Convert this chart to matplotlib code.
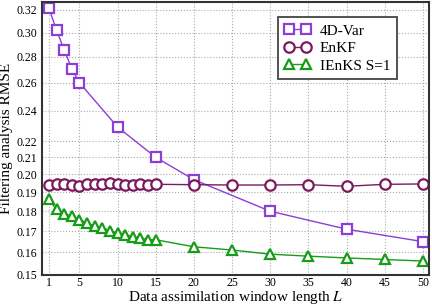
import numpy as np
import matplotlib
matplotlib.use("Agg")
import matplotlib.pyplot as plt
from matplotlib.ticker import FixedLocator, NullLocator, FormatStrFormatter

plt.rcParams['font.family'] = ['Liberation Serif', 'DejaVu Serif']
plt.rcParams['mathtext.fontset'] = 'stix'

# --- data ---
L_var = [1, 2, 3, 4, 5, 10, 15, 20, 30, 40, 50]
rmse_var = [0.322, 0.302, 0.2857, 0.2705, 0.260, 0.229, 0.210, 0.197, 0.180, 0.171, 0.165]

L_enkf = [1, 2, 3, 4, 5, 6, 7, 8, 9, 10, 11, 12, 13, 14, 15, 20, 25, 30, 35, 40, 45, 50]
rmse_enkf = [0.1940, 0.1947, 0.1944, 0.1942, 0.1933, 0.1946, 0.1947, 0.1944, 0.1953, 0.1947,
             0.1942, 0.1942, 0.1946, 0.1942, 0.1944, 0.1942, 0.1940, 0.1940, 0.1942, 0.1933,
             0.1944, 0.1946]

L_ienks = [1, 2, 3, 4, 5, 6, 7, 8, 9, 10, 11, 12, 13, 14, 15, 20, 25, 30, 35, 40, 45, 50]
rmse_ienks = [0.1862, 0.1809, 0.1787, 0.1775, 0.1756, 0.1740, 0.1725, 0.1717, 0.1702, 0.1691,
              0.1684, 0.1673, 0.1668, 0.1659, 0.1659, 0.1626, 0.1611, 0.1592, 0.1583, 0.1575,
              0.1568, 0.1561]

xticks = [1, 5, 10, 15, 20, 25, 30, 35, 40, 45, 50]
yticks = [0.15, 0.16, 0.17, 0.18, 0.19, 0.20, 0.21, 0.22, 0.24, 0.26, 0.28, 0.30, 0.32]

fig = plt.figure(figsize=(4.32, 3.05), dpi=100)
ax = fig.add_axes([42 / 432, 30 / 305, 387 / 432, 273 / 305])

ax.plot(L_var, rmse_var, '-s', color='#8b3fd6', lw=1.0, ms=7.5, mfc='white', mew=1.6,
        label='4D-Var')
ax.plot(L_enkf, rmse_enkf, '-o', color='#7b1a5e', lw=1.0, ms=7.5, mfc='white', mew=1.6,
        label='EnKF')
ax.plot(L_ienks, rmse_ienks, '-^', color='#179c17', lw=1.0, ms=7.5, mfc='white', mew=1.6,
        label='IEnKS S=1')

ax.set_yscale('log')
ax.set_xlim(0.1, 50.8)
ax.set_ylim(0.15, 0.3274)
ax.xaxis.set_major_locator(FixedLocator(xticks))
ax.yaxis.set_major_locator(FixedLocator(yticks))
ax.yaxis.set_minor_locator(NullLocator())
ax.yaxis.set_major_formatter(FormatStrFormatter('%.2f'))
ax.tick_params(length=0, labelsize=8.5)
ax.tick_params(axis='x', pad=1.5)
ax.tick_params(axis='y', pad=3.5)
ax.grid(True, ls=':', color='#aaaaaa', lw=0.8)

for s in ax.spines.values():
    s.set_color('#333333')
    s.set_linewidth(1.5)

ax.set_xlabel('Data assimilation window length $L$', fontsize=11, labelpad=0)
ax.set_ylabel('Filtering analysis RMSE', fontsize=11, labelpad=2.5)

leg = ax.legend(loc='upper right', bbox_to_anchor=(0.937, 0.973), fontsize=11,
                numpoints=2, fancybox=False, framealpha=1, edgecolor='#444444',
                handlelength=1.7, borderpad=0.45, labelspacing=0.25, handletextpad=0.6)
leg.get_frame().set_linewidth(1.3)

fig.savefig('out.png', dpi=100)
